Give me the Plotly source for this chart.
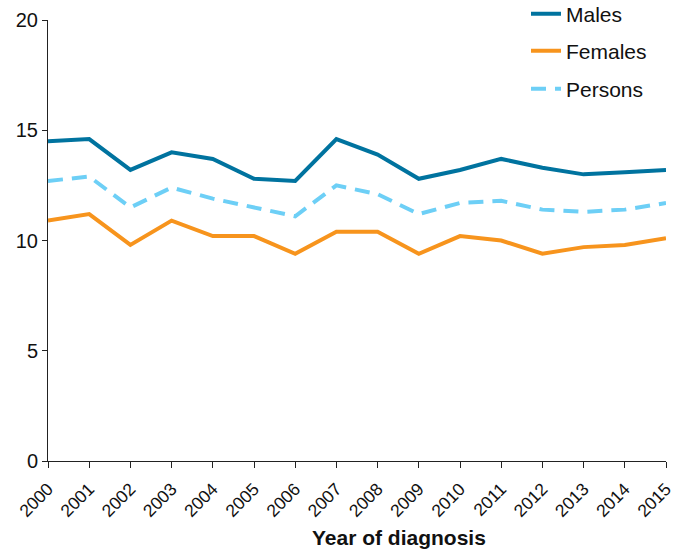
import plotly.graph_objects as go

years = list(range(2000, 2016))
males = [14.5, 14.6, 13.2, 14.0, 13.7, 12.8, 12.7, 14.6, 13.9, 12.8, 13.2, 13.7, 13.3, 13.0, 13.1, 13.2]
females = [10.9, 11.2, 9.8, 10.9, 10.2, 10.2, 9.4, 10.4, 10.4, 9.4, 10.2, 10.0, 9.4, 9.7, 9.8, 10.1]
persons = [12.7, 12.9, 11.5, 12.4, 11.9, 11.5, 11.1, 12.5, 12.1, 11.2, 11.7, 11.8, 11.4, 11.3, 11.4, 11.7]
x_title = "Year of diagnosis"

font_family = "Liberation Sans, Arial, sans-serif"

fig = go.Figure()
fig.add_trace(go.Scatter(x=years, y=males, mode="lines", name="Males",
                         line=dict(color="#00739F", width=4), legend="legend"))
fig.add_trace(go.Scatter(x=years, y=females, mode="lines", name="Females",
                         line=dict(color="#F7941D", width=4), legend="legend2"))
fig.add_trace(go.Scatter(x=years, y=persons, mode="lines", name="Persons",
                         line=dict(color="#6DCFF6", width=4, dash="15px,9px"), legend="legend3"))

leg_common = dict(x=526 / 688, xref="container", yref="container",
                  xanchor="left", yanchor="middle",
                  font=dict(family=font_family, size=21, color="#111"),
                  bgcolor="rgba(0,0,0,0)", borderwidth=0)

fig.update_layout(
    width=688, height=552,
    margin=dict(l=48, r=22, t=20, b=91, autoexpand=False),
    paper_bgcolor="white", plot_bgcolor="white",
    font=dict(family=font_family, color="#111"),
    showlegend=True,
    legend=dict(y=1 - 14 / 552, **leg_common),
    legend2=dict(y=1 - 51 / 552, **leg_common),
    legend3=dict(y=1 - 89 / 552, **leg_common),
    xaxis=dict(
        range=[2000, 2015], tickmode="array", tickvals=years,
        ticktext=[str(y) for y in years], tickangle=-45,
        tickfont=dict(size=17.5, family=font_family, color="#111"),
        ticklabelstandoff=4,
        showline=True, linecolor="#222", linewidth=1,
        ticks="outside", ticklen=6, tickcolor="#222",
        showgrid=False, zeroline=False, automargin=False,
    ),
    yaxis=dict(
        range=[0, 20], tickvals=[0, 5, 10, 15, 20],
        tickfont=dict(size=20, family=font_family, color="#111"),
        showline=True, linecolor="#222", linewidth=1,
        ticks="outside", ticklen=5, tickcolor="#222",
        showgrid=False, zeroline=False, automargin=False,
    ),
    annotations=[dict(
        text="<b>" + x_title + "</b>", xref="paper", yref="paper",
        x=(399 - 48) / 618, y=-(537 - 461) / 441, xanchor="center", yanchor="middle",
        showarrow=False, font=dict(size=21, family=font_family, color="#111"),
    )],
)

fig.write_html("out.html", config={"displayModeBar": False},
               post_script="document.body.style.margin='0';document.body.style.padding='0';")
